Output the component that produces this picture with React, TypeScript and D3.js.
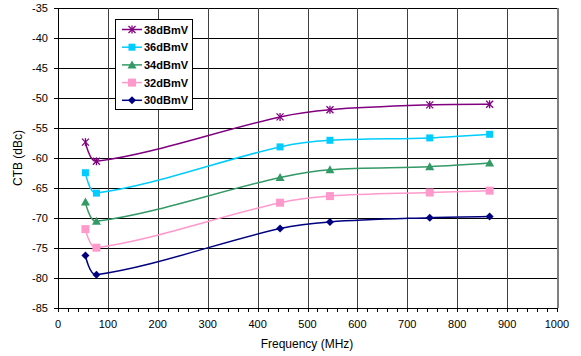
import React from "react";
import * as d3 from "d3";

const freqs = [55, 77, 445, 545, 745, 865];
const seriesNames = ["38dBmV", "36dBmV", "34dBmV", "32dBmV", "30dBmV"];
const s38 = [-57.4, -60.6, -53.2, -52.0, -51.2, -51.1];
const s36 = [-62.5, -65.9, -58.2, -57.1, -56.7, -56.1];
const s34 = [-67.4, -70.6, -63.3, -62.0, -61.5, -60.9];
const s32 = [-71.9, -75.0, -67.5, -66.4, -65.8, -65.5];
const s30 = [-76.3, -79.5, -71.8, -70.7, -70.0, -69.8];
const seriesValues = [s38, s36, s34, s32, s30];
const colors = ["#800080", "#00CCFF", "#339966", "#FF99CC", "#000080"];
const markers = ["star", "square", "triangle", "square", "diamond"];
const xTicks = [0, 100, 200, 300, 400, 500, 600, 700, 800, 900, 1000];
const yTicks = [-35, -40, -45, -50, -55, -60, -65, -70, -75, -80, -85];

const W = 581, H = 356;
const left = 58, right = 557, top = 7.7, bottom = 307.7;

// Excel-like smoothed line through pixel points
function smoothPath(p: [number, number][]): string {
  const path = d3.path();
  const n = p.length;
  const dist = (a: [number, number], b: [number, number]) => Math.hypot(b[0] - a[0], b[1] - a[1]);
  path.moveTo(p[0][0], p[0][1]);
  for (let i = 0; i < n - 1; i++) {
    const p1 = p[i], p2 = p[i + 1];
    const d12 = dist(p1, p2);
    let c1: [number, number], c2: [number, number];
    if (i === 0) c1 = p1;
    else {
      const p0 = p[i - 1];
      const k = d12 / (3 * (dist(p0, p1) + d12));
      c1 = [p1[0] + (p2[0] - p0[0]) * k, p1[1] + (p2[1] - p0[1]) * k];
    }
    if (i === n - 2) c2 = p2;
    else {
      const p3 = p[i + 2];
      const k = d12 / (3 * (d12 + dist(p2, p3)));
      c2 = [p2[0] - (p3[0] - p1[0]) * k, p2[1] - (p3[1] - p1[1]) * k];
    }
    path.bezierCurveTo(c1[0], c1[1], c2[0], c2[1], p2[0], p2[1]);
  }
  return path.toString();
}

function Marker({ type, x, y, color }: { type: string; x: number; y: number; color: string }) {
  if (type === "square") {
    const s = color === "#FF99CC" ? 8 : 7;
    return <rect x={x - s / 2} y={y - s / 2} width={s} height={s} fill={color} />;
  }
  if (type === "triangle") {
    return <path d={`M${x},${y - 4.5} L${x + 4.5},${y + 3.5} L${x - 4.5},${y + 3.5} Z`} fill={color} />;
  }
  if (type === "diamond") {
    return <path d={`M${x},${y - 4} L${x + 4},${y} L${x},${y + 4} L${x - 4},${y} Z`} fill={color} />;
  }
  return (
    <g stroke={color} strokeWidth={1.3}>
      <line x1={x - 3.5} y1={y - 3.5} x2={x + 3.5} y2={y + 3.5} />
      <line x1={x - 3.5} y1={y + 3.5} x2={x + 3.5} y2={y - 3.5} />
      <line x1={x} y1={y - 4} x2={x} y2={y + 4} />
    </g>
  );
}

export default function App() {
  const x = d3.scaleLinear().domain([0, 1000]).range([left, right]);
  const y = d3.scaleLinear().domain([-85, -35]).range([bottom, top]);
  const minor = d3.range(0, 1001, 20);
  const font = "Arial, 'Liberation Sans', sans-serif";

  return (
    <svg width={W} height={H} style={{ position: "absolute", left: 0, top: 0, background: "#fff" }} fontFamily={font}>
      <rect x={0} y={0} width={W} height={H} fill="#fff" />
      <g shapeRendering="crispEdges">
        {yTicks.map((t) => (
          <line key={"gy" + t} x1={left} x2={right} y1={Math.round(y(t)) + 0.5} y2={Math.round(y(t)) + 0.5} stroke="#000" strokeWidth={1} />
        ))}
        {xTicks.map((t) => (
          <line key={"gx" + t} x1={Math.round(x(t)) + 0.5} x2={Math.round(x(t)) + 0.5} y1={top} y2={bottom} stroke={t === 1000 ? "#808080" : "#404040"} strokeWidth={t === 1000 ? 2 : 1} />
        ))}
        <line x1={left + 0.5} x2={left + 0.5} y1={top} y2={bottom + 1} stroke="#000" />
        <line x1={left} x2={right} y1={Math.round(y(-85)) + 0.5} y2={Math.round(y(-85)) + 0.5} stroke="#000" />
        {yTicks.map((t) => (
          <line key={"ty" + t} x1={left - 4} x2={left} y1={Math.round(y(t)) + 0.5} y2={Math.round(y(t)) + 0.5} stroke="#000" />
        ))}
        {minor.map((t) => (
          <line key={"tx" + t} x1={Math.round(x(t)) + 0.5} x2={Math.round(x(t)) + 0.5} y1={bottom} y2={bottom + 4} stroke="#000" />
        ))}
      </g>
      {yTicks.map((t) => (
        <text key={"ly" + t} x={48} y={y(t) + 4} textAnchor="end" fontSize={11} fill="#000">
          {t}
        </text>
      ))}
      {xTicks.map((t) => (
        <text key={"lx" + t} x={x(t)} y={328} textAnchor="middle" fontSize={11} fill="#000">
          {t}
        </text>
      ))}
      <text x={0} y={0} transform={`translate(22,158) rotate(-90)`} textAnchor="middle" fontSize={12}>
        CTB (dBc)
      </text>
      <text x={307} y={348} textAnchor="middle" fontSize={12}>
        Frequency (MHz)
      </text>
      {seriesValues.map((vals, i) => {
        const pts = freqs.map((f, j) => [x(f), y(vals[j])] as [number, number]);
        return (
          <g key={seriesNames[i]}>
            <path d={smoothPath(pts)} fill="none" stroke={colors[i]} strokeWidth={1.5} />
            {pts.map((p, j) => (
              <Marker key={j} type={markers[i]} x={p[0]} y={p[1]} color={colors[i]} />
            ))}
          </g>
        );
      })}
      <g>
        <rect x={115.5} y={19.5} width={77} height={90} fill="#fff" stroke="#000" strokeWidth={1} />
        {seriesNames.map((n, i) => {
          const ly = 29.5 + i * 17.7;
          return (
            <g key={n}>
              <line x1={122} x2={142} y1={ly} y2={ly} stroke={colors[i]} strokeWidth={1.5} />
              <Marker type={markers[i]} x={132} y={ly} color={colors[i]} />
              <text x={144} y={ly + 4} fontSize={11} fontWeight="bold" fill="#000">
                {n}
              </text>
            </g>
          );
        })}
      </g>
    </svg>
  );
}
